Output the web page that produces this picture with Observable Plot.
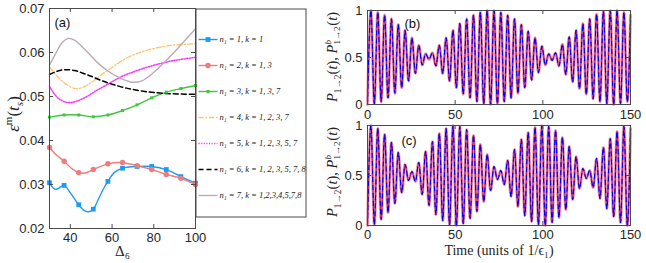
<!DOCTYPE html>
<html><head><meta charset="utf-8">
<script src="https://cdn.jsdelivr.net/npm/d3@7"></script>
<script src="https://cdn.jsdelivr.net/npm/@observablehq/plot@0.6"></script>
<style>
body{margin:0;background:#fff;}
#wrap{position:relative;width:646px;height:263px;overflow:hidden;background:#fff;}
#wrap svg{position:absolute;overflow:visible;}
.lab{position:absolute;font-family:"Liberation Serif","Times New Roman",serif;color:#262626;white-space:nowrap;transform:translate(-50%,-50%);line-height:1;}
.rot{transform:translate(-50%,-50%) rotate(-90deg);}
.ss{display:inline-flex;flex-direction:column;vertical-align:middle;font-size:0.62em;line-height:1.05;font-style:normal;margin-right:1px;}
.lab sub,.lab sup{font-size:0.65em;}
</style></head><body><div id="wrap"></div>
<script>
// ---------- Panel (a) data ----------
const deltaMarkers = [30,37,44,51,58,65,72,79,86,93,100];
const s1Marks = [0.0304,0.0298,0.0254,0.0244,0.0307,0.0337,0.0341,0.0341,0.0334,0.0318,0.0303];
const s2Marks = [0.0384,0.0353,0.0327,0.0334,0.0347,0.0350,0.0343,0.0334,0.0323,0.0314,0.0300];
const s3Marks = [0.0453,0.0458,0.0458,0.0454,0.0458,0.0468,0.0481,0.0497,0.0510,0.0518,0.0525];

const s1X = [30,31.5,33,34.5,37,40,44,46.5,48.5,51,53,55.5,58,61,65,72,79,86,93,100];
const s1Y = [0.0304,0.0293,0.0289,0.0292,0.0298,0.0281,0.0254,0.0241,0.0238,0.0244,0.0262,0.0287,0.0307,0.0327,0.0337,0.0341,0.0341,0.0334,0.0318,0.0303];
const s2X = [30,33,37,40.5,44,47,51,58,64,72,79,86,93,100];
const s2Y = [0.0384,0.0368,0.0353,0.0337,0.0327,0.0326,0.0334,0.0347,0.0350,0.0343,0.0334,0.0323,0.0314,0.0300];
const s3X = deltaMarkers;
const s3Y = s3Marks;
const s4X = [30,33,36,40,43,46,50,55,60,65,72,80,88,100];
const s4Y = [0.0567,0.0550,0.0535,0.0522,0.0518,0.0521,0.0532,0.0550,0.0566,0.0582,0.0598,0.0609,0.0616,0.0620];
const s5X = [30,32,34.5,38,41,44,48,52,58,64,72,80,90,100];
const s5Y = [0.0523,0.0508,0.0495,0.0487,0.0487,0.0491,0.0500,0.0512,0.0528,0.0544,0.0559,0.0571,0.0582,0.0589];
const s6X = [30,34,38,42,46,50,55,60,67,75,85,100];
const s6Y = [0.0550,0.0558,0.0561,0.0559,0.0553,0.0546,0.0536,0.0528,0.0519,0.0512,0.0507,0.0505];
const s7X = [30,33,36,39,42,45,49,53,58,63,69,74,80,86,92,96,100];
const s7Y = [0.0571,0.0598,0.0622,0.0632,0.0628,0.0616,0.0597,0.0577,0.0558,0.0544,0.0533,0.0535,0.0555,0.0582,0.0612,0.0633,0.0654];

const legendLabels = [
  "n\u2081 = 1, k = 1",
  "n\u2081 = 2, k = 1, 3",
  "n\u2081 = 3, k = 1, 3, 7",
  "n\u2081 = 4, k = 1, 2, 3, 7",
  "n\u2081 = 5, k = 1, 2, 3, 5, 7",
  "n\u2081 = 6, k = 1, 2, 3, 5, 7, 8",
  "n\u2081 = 7, k = 1,2,3,4,5,7,8"
];
const xTicksA = [40,60,80,100];
const yTicksA = [0.02,0.03,0.04,0.05,0.06,0.07];

// ---------- Panels (b),(c) data: successive extrema ----------
const tExtrema = [0,1.95,3.9,5.85,7.8,9.75,11.7,13.65,15.6,17.55,19.5,21.45,23.4,25.35,27.3,29.25,31.2,33.15,35.1,37.05,39,40.95,42.9,44.85,46.8,48.75,50.7,52.65,54.6,56.55,58.5,60.45,62.4,64.35,66.3,68.25,70.2,72.15,74.1,76.05,78,79.95,81.9,83.85,85.8,87.75,89.7,91.65,93.6,95.55,97.5,99.45,101.4,103.35,105.3,107.25,109.2,111.15,113.1,115.05,117,118.95,120.9,122.85,124.8,126.75,128.7,130.65,132.6,134.55,136.5,138.45,140.4,142.35,144.3,146.25,148.2,150];
const pB = [0.00,1.00,0.01,0.98,0.03,0.95,0.07,0.91,0.12,0.85,
            0.18,0.79,0.25,0.71,0.33,0.63,0.42,0.54,0.48,0.55,
            0.41,0.63,0.33,0.71,0.25,0.79,0.18,0.86,0.11,0.91,
            0.07,0.95,0.03,0.98,0.01,1.00,0.00,1.00,0.01,0.98,
            0.03,0.95,0.07,0.91,0.12,0.85,0.18,0.78,0.26,0.71,
            0.34,0.62,0.42,0.54,0.47,0.55,0.41,0.64,0.32,0.72,
            0.24,0.79,0.17,0.86,0.11,0.91,0.06,0.96,0.03,0.99,
            0.01,1.00,0.00,1.00,0.01,0.98,0.03,0.95];
const pC = [0.00,1.00,0.01,0.97,0.06,0.91,0.13,0.83,0.22,0.73,
            0.33,0.61,0.45,0.54,0.44,0.63,0.31,0.74,0.20,0.84,
            0.11,0.92,0.05,0.97,0.01,1.00,0.00,0.99,0.02,0.96,
            0.07,0.90,0.14,0.81,0.24,0.71,0.35,0.59,0.46,0.55,
            0.41,0.65,0.29,0.76,0.19,0.86,0.10,0.93,0.04,0.98,
            0.01,1.00,0.00,0.99,0.03,0.95,0.08,0.88,0.16,0.79,
            0.26,0.69,0.37,0.57,0.47,0.55,0.38,0.67,0.27,0.78,
            0.17,0.87,0.09,0.94,0.03,0.99,0.00,0.97];
const xTicksBC = [0,50,100,150];
const yTicksBC = [0,0.5,1];

// ---------- styles ----------
const seriesColors = ["#1e9bf0","#f27a7a","#3dc83d","#ffc36b","#ff33ff","#000000","#bcaab6"];
const seriesDash = [null,null,null,"5,2,1.5,2","1.2,1.4","5,3",null];
const seriesWidth = [1.4,1.4,1.4,1.3,1.5,1.5,1.4];
const AX = "#4a4a4a";
const SANS = "'Liberation Sans', Arial, sans-serif";
const SERIF = "'Liberation Serif', 'Times New Roman', serif";

const toPts = (xs, ys) => xs.map((x, i) => ({x, y: ys[i]}));
const curves = [toPts(s1X,s1Y),toPts(s2X,s2Y),toPts(s3X,s3Y),toPts(s4X,s4Y),toPts(s5X,s5Y),toPts(s6X,s6Y),toPts(s7X,s7Y)];
const markSets = [
  {pts: toPts(deltaMarkers, s1Marks), symbol: "square", r: 2.7},
  {pts: toPts(deltaMarkers, s2Marks), symbol: "circle", r: 2.7},
  {pts: toPts(deltaMarkers, s3Marks), symbol: "square", r: 1.7}
];

function inward(xt, yt, fw, fh, len) {
  return [
    Plot.ruleX(xt, {x: d => d, insetTop: fh - len, stroke: AX}),
    Plot.ruleX(xt, {x: d => d, insetBottom: fh - len, stroke: AX}),
    Plot.ruleY(yt, {y: d => d, insetRight: fw - len, stroke: AX}),
    Plot.ruleY(yt, {y: d => d, insetLeft: fw - len, stroke: AX})
  ];
}

const wrap = document.getElementById("wrap");
function place(svg, left, top) { svg.style.left = left + "px"; svg.style.top = top + "px"; wrap.appendChild(svg); }

// ---------- Panel (a) ----------
const aW = 215, aH = 263, aL = 49, aR = 20, aT = 8, aB = 35;
const marksA = [];
curves.forEach((pts, i) => {
  marksA.push(Plot.line(pts, {x: "x", y: "y", stroke: seriesColors[i], strokeWidth: seriesWidth[i],
    strokeDasharray: seriesDash[i] || undefined, curve: "catmull-rom"}));
});
markSets.forEach((m, i) => {
  marksA.push(Plot.dot(m.pts, {x: "x", y: "y", symbol: m.symbol, r: m.r, fill: seriesColors[i], stroke: "none"}));
});
const plotA = Plot.plot({
  width: aW, height: aH, marginLeft: aL, marginRight: aR, marginTop: aT, marginBottom: aB,
  style: {fontFamily: SANS, color: "#262626", background: "transparent"},
  x: {domain: [30, 100]},
  y: {domain: [0.02, 0.07]},
  marks: [
    ...marksA,
    Plot.frame({stroke: AX}),
    ...inward(xTicksA, yTicksA, aW - aL - aR, aH - aT - aB, 4),
    Plot.axisX(xTicksA, {tickSize: 0, tickPadding: 4, fontSize: 13, label: null}),
    Plot.axisY(yTicksA, {tickSize: 0, tickPadding: 5, fontSize: 13, label: null, tickFormat: d3.format(".2f")}),
    Plot.text(["(a)"], {frameAnchor: "top-left", dx: 5, dy: 9, fontSize: 13, textAnchor: "start", fill: "#111"}),
    Plot.text(["\u0394\u2086"], {frameAnchor: "bottom", dy: 27, fontSize: 15, fontFamily: SERIF, fill: "#262626"})
  ]
});
place(plotA, 0, 0);

// ---------- Legend ----------
const lgW = 111, lgH = 209;
const legendMarks = [];
legendLabels.forEach((lab, i) => {
  legendMarks.push(Plot.link([lab], {x1: 3, x2: 22, y1: d => d, y2: d => d, stroke: seriesColors[i],
    strokeWidth: seriesWidth[i], strokeDasharray: seriesDash[i] || undefined}));
  if (i < 3) legendMarks.push(Plot.dot([lab], {x: 12.5, y: d => d, symbol: markSets[i].symbol,
    r: markSets[i].r, fill: seriesColors[i], stroke: "none"}));
});
const legend = Plot.plot({
  width: lgW, height: lgH, margin: 0,
  style: {background: "transparent"},
  x: {domain: [0, lgW], range: [0, lgW], axis: null},
  y: {type: "point", domain: legendLabels, range: [17.5, 199.5], axis: null},
  marks: [
    ...legendMarks,
    Plot.text(legendLabels, {x: 24, y: d => d, text: d => d, textAnchor: "start", fontSize: 8.5,
      fontFamily: SERIF, fontStyle: "italic", fill: "#222"}),
    Plot.frame({stroke: AX, inset: 0.5})
  ]
});
place(legend, 195, 8);

// ---------- Panels (b) and (c) ----------
function oscPanel(vals, opts) {
  const data = tExtrema.map((t, i) => ({t, p: vals[i]}));
  const fw = opts.width - opts.ml - opts.mr, fh = opts.height - opts.mt - opts.mb;
  const common = {x: "t", y: "p", curve: "monotone-x"};
  const extra = [];
  if (opts.xlabel) extra.push(Plot.text([opts.xlabel], {frameAnchor: "bottom", dy: opts.xlabelDy, fontSize: 14, fontFamily: SERIF, fill: "#262626"}));
  return Plot.plot({
    width: opts.width, height: opts.height, marginLeft: opts.ml, marginRight: opts.mr, marginTop: opts.mt, marginBottom: opts.mb,
    style: {fontFamily: SANS, color: "#262626", background: "transparent"},
    x: {domain: [0, 150]}, y: {domain: [0, 1]},
    marks: [
      Plot.line(data, {...common, stroke: "#ff2020", strokeWidth: 3.2, strokeOpacity: 0.35}),
      Plot.line(data, {...common, stroke: "#ff0000", strokeWidth: 1}),
      Plot.line(data, {...common, stroke: "#3030ff", strokeWidth: 2.4, strokeOpacity: 0.25, strokeDasharray: "4,4", strokeDashoffset: 4}),
      Plot.line(data, {...common, stroke: "#0000ff", strokeWidth: 1.2, strokeDasharray: "4,4"}),
      Plot.frame({stroke: AX}),
      ...inward(xTicksBC, yTicksBC, fw, fh, 4),
      Plot.axisX(xTicksBC, {tickSize: 0, tickPadding: opts.xpad, fontSize: 13, label: null, tickFormat: d => String(d)}),
      Plot.axisY(yTicksBC, {tickSize: 0, tickPadding: 5, fontSize: 13, label: null, tickFormat: d => String(d)}),
      Plot.text([opts.tag], {frameAnchor: "top-left", dx: opts.tagDx, dy: opts.tagDy, fontSize: 13, textAnchor: "start", fill: "#111"}),
      ...extra
    ]
  });
}
const plotB = oscPanel(pB, {width: 326, height: 128, ml: 47, mr: 16, mt: 10, mb: 24, xpad: 5, tag: "(b)", tagDx: 37, tagDy: 8});
place(plotB, 320, 0);
const plotC = oscPanel(pC, {width: 326, height: 143, ml: 47, mr: 16, mt: 5, mb: 38, xpad: 4, tag: "(c)", tagDx: 34, tagDy: 10,
  xlabel: "Time (units of 1/\u03F5\u2081)", xlabelDy: 29});
place(plotC, 320, 120);

// ---------- rotated y labels (HTML text) ----------
function addLabel(html, x, y, size, rot) {
  const d = document.createElement("div");
  d.className = "lab" + (rot ? " rot" : "");
  d.style.left = x + "px"; d.style.top = y + "px"; d.style.fontSize = size + "px";
  d.innerHTML = html;
  wrap.appendChild(d);
}
addLabel('<i>\u03B5</i><sup>m</sup>(<i>t</i><sub><i>s</i></sub>)', 14, 114, 17, true);
const pLab = '<i>P</i><sub>1\u21922</sub>(<i>t</i>), <i>P</i><span class="ss"><i>b</i><span>1\u21922</span></span>(<i>t</i>)';
addLabel(pLab, 334, 57, 14.5, true);
addLabel(pLab, 334, 172, 14.5, true);
</script></body></html>
